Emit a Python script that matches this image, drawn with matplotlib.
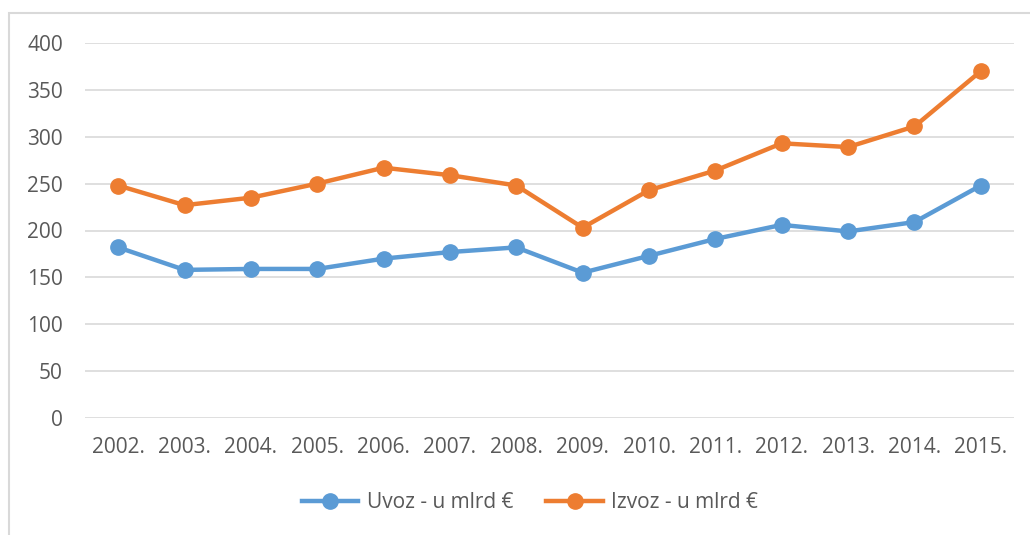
import matplotlib.pyplot as plt
from matplotlib.patches import Rectangle

# Data
years = ['2002.', '2003.', '2004.', '2005.', '2006.', '2007.', '2008.',
         '2009.', '2010.', '2011.', '2012.', '2013.', '2014.', '2015.']
uvoz = [182, 158, 159, 159, 170, 177, 182, 155, 173, 191, 206, 199, 209, 248]
izvoz = [248, 227, 235, 250, 267, 259, 248, 203, 243, 264, 293, 289, 311, 370]

plt.rcParams['font.family'] = ['Open Sans', 'DejaVu Sans']

W, H = 1030, 535
fig = plt.figure(figsize=(W / 100, H / 100), dpi=100)

# outer chart frame (right and bottom edges are cut off in the original)
fig.patches.append(Rectangle((9 / W, -0.05), 1.1, 1 - 13 / H + 0.05,
                             transform=fig.transFigure, fill=False,
                             edgecolor='#d9d9d9', linewidth=1.5))

ax = fig.add_axes([85 / W, 1 - 418 / H, (1014 - 85) / W, (418 - 43) / H])

x = range(len(years))
ax.plot(x, uvoz, color='#5B9BD5', linewidth=3.2, marker='o', markersize=11,
        label='Uvoz - u mlrd €', zorder=3)
ax.plot(x, izvoz, color='#ED7D31', linewidth=3.2, marker='o', markersize=11,
        label='Izvoz - u mlrd €', zorder=3)

ax.set_xlim(-0.5, len(years) - 0.5)
ax.set_ylim(0, 400)
ax.set_yticks(range(0, 401, 50))
ax.set_xticks(list(x))
ax.set_xticklabels(years)
ax.grid(axis='y', color='#d9d9d9', linewidth=1.2)
ax.set_axisbelow(True)
for s in ax.spines.values():
    s.set_visible(False)
ax.tick_params(length=0, labelsize=15, colors='#595959')
ax.tick_params(axis='y', pad=16)
ax.tick_params(axis='x', pad=14)

leg = fig.legend(loc='center', bbox_to_anchor=(530 / W, 1 - 503 / H), ncol=2,
                 frameon=False, fontsize=15, handlelength=2.7,
                 columnspacing=1.6, handletextpad=0.4)
for t in leg.get_texts():
    t.set_color('#595959')

fig.savefig('out.png', dpi=100)
